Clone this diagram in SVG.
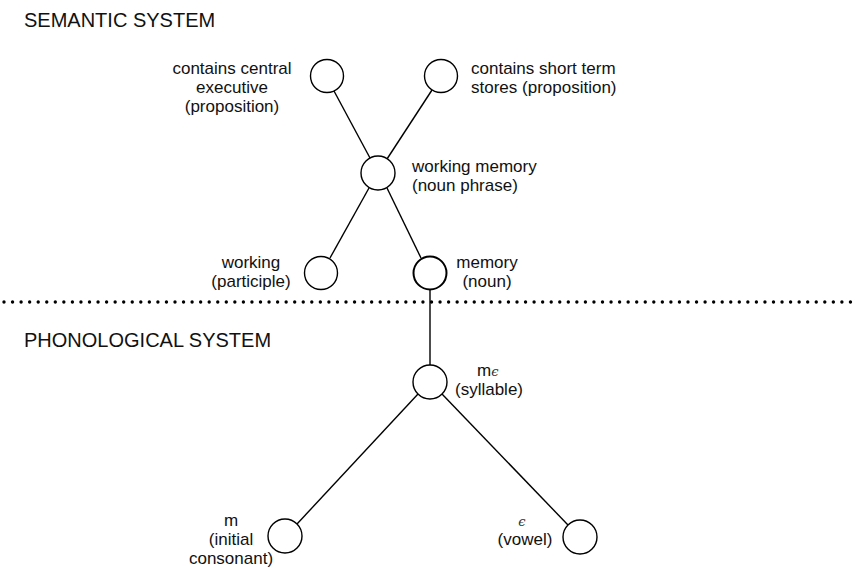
<svg xmlns="http://www.w3.org/2000/svg" width="858" height="568" viewBox="0 0 858 568">
<style>
.n{fill:#fff;stroke:#000;stroke-width:1.4}
.thick{stroke-width:2}
.e{stroke:#000;stroke-width:1.4;fill:none}
text{font-family:"Liberation Sans",Arial,sans-serif;font-size:17px;fill:#111}
.h{font-size:20px}
.c{text-anchor:middle}
.eps{font-family:"DejaVu Serif",serif;font-style:italic;font-size:13px;fill:#333}
</style>
<rect width="858" height="568" fill="#fff"/>
<text class="h" x="24" y="27">SEMANTIC SYSTEM</text>
<text class="h" x="24" y="347">PHONOLOGICAL SYSTEM</text>
<line x1="4" y1="302" x2="856" y2="302" stroke="#000" stroke-width="3.4" stroke-linecap="round" stroke-dasharray="0 8.55"/>
<g id="connectors">
<line class="e" x1="334" y1="91" x2="370" y2="158"/>
<line class="e" x1="432" y1="90" x2="387" y2="159"/>
<line class="e" x1="369" y1="188" x2="330" y2="258"/>
<line class="e" x1="387" y1="188" x2="421" y2="258"/>
<line class="e" x1="430" y1="290" x2="430" y2="365"/>
<line class="e" x1="418" y1="394" x2="297" y2="524"/>
<line class="e" x1="442" y1="394" x2="568" y2="525"/>
</g>
<g id="n1"><circle class="n" cx="327" cy="76" r="16.5"/>
<text class="c" x="232" y="74">contains central</text><text class="c" x="232" y="93">executive</text><text class="c" x="232" y="112">(proposition)</text></g>
<g id="n2"><circle class="n" cx="441" cy="76" r="16.5"/>
<text x="471" y="74">contains short term</text><text x="471" y="93">stores (proposition)</text></g>
<g id="n3"><circle class="n" cx="378" cy="173" r="17"/>
<text x="412" y="172">working memory</text><text x="412" y="191">(noun phrase)</text></g>
<g id="n4"><circle class="n" cx="321" cy="273" r="16.5"/>
<text class="c" x="251" y="268">working</text><text class="c" x="251" y="287">(participle)</text></g>
<g id="n5"><circle class="n thick" cx="430" cy="273" r="16.5"/>
<text class="c" x="487" y="268">memory</text><text class="c" x="487" y="287">(noun)</text></g>
<g id="n6"><circle class="n" cx="430" cy="382" r="17"/>
<text x="477" y="376">m<tspan class="eps">ϵ</tspan></text><text class="c" x="489" y="395">(syllable)</text></g>
<g id="n7"><circle class="n" cx="285" cy="536" r="17"/>
<text class="c" x="231" y="526">m</text><text class="c" x="231" y="545">(initial</text><text class="c" x="231" y="564">consonant)</text></g>
<g id="n8"><circle class="n" cx="580" cy="537" r="17"/>
<text class="c eps" x="522" y="526">ϵ</text><text class="c" x="525" y="545">(vowel)</text></g>
</svg>
